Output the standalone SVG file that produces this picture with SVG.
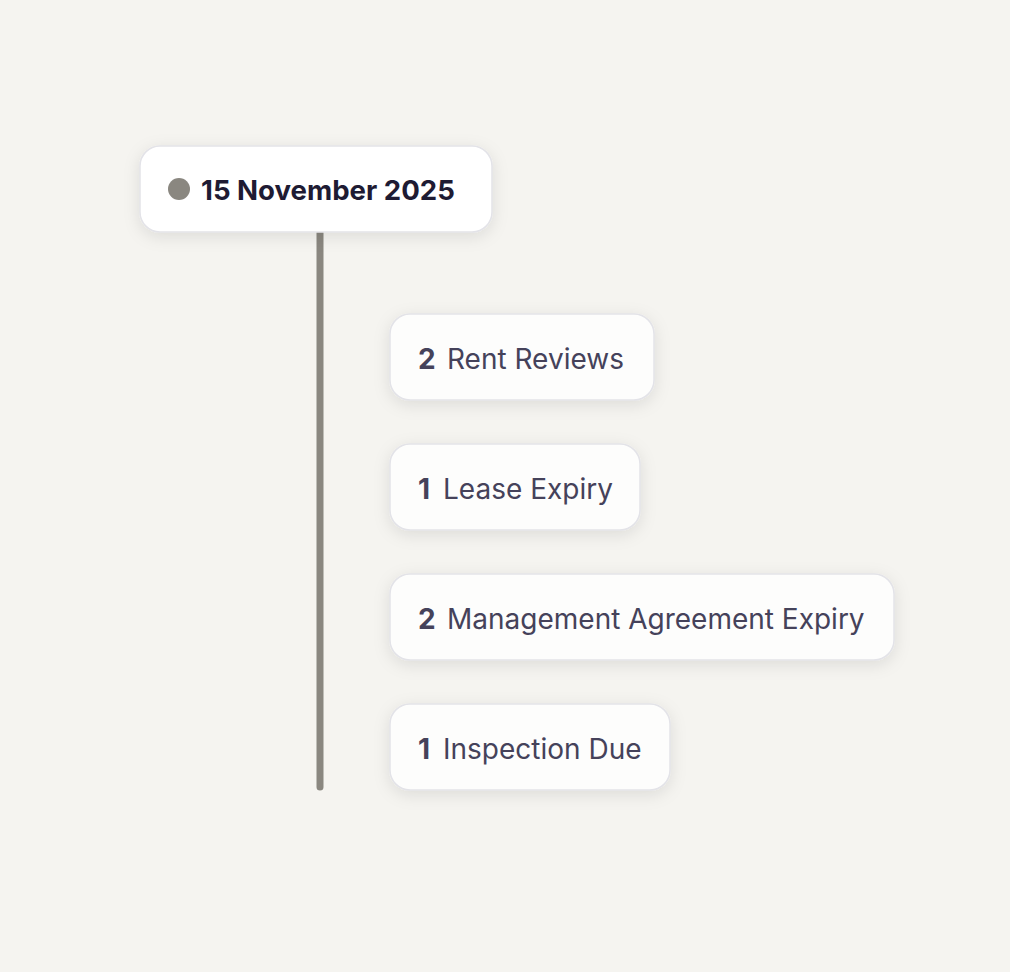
<svg xmlns="http://www.w3.org/2000/svg" width="1010" height="972" viewBox="0 0 1010 972">
<defs>
<filter id="sh" x="-20%" y="-40%" width="140%" height="180%">
<feDropShadow dx="0" dy="4" stdDeviation="8" flood-color="#000" flood-opacity="0.10"/>
</filter>
<style>
.card{fill:#fdfdfc;stroke:#e3e3e8;stroke-width:1.5;filter:url(#sh)}
.head{fill:#ffffff}
.ht{font-family:Inter,"Noto Sans",sans-serif;font-weight:700;font-size:27.6px;fill:#1e1b33}
.n{font-family:Inter,"Noto Sans",sans-serif;font-weight:700;font-size:28px;fill:#45425a}
.t{font-family:Inter,"Noto Sans",sans-serif;font-weight:400;font-size:28px;fill:#45425a}
</style>
</defs>
<rect width="1010" height="972" fill="#f5f4f0"/>
<g id="connectors">
<line x1="320" y1="232" x2="320" y2="787" stroke="#8a8780" stroke-width="7" stroke-linecap="round"/>
</g>
<g id="date">
<rect class="card head" x="140" y="146" width="352" height="86" rx="20"/>
<circle cx="179" cy="189" r="11" fill="#8a8780"/>
<text class="ht" x="201" y="200">15 November 2025</text>
</g>
<g id="rent-reviews">
<rect class="card" x="390" y="314" width="264" height="86" rx="20"/>
<text x="418" y="369"><tspan class="n">2</tspan><tspan class="t" x="447">Rent Reviews</tspan></text>
</g>
<g id="lease-expiry">
<rect class="card" x="390" y="444" width="250" height="86" rx="20"/>
<text x="418" y="499"><tspan class="n">1</tspan><tspan class="t" x="443">Lease Expiry</tspan></text>
</g>
<g id="management-agreement-expiry">
<rect class="card" x="390" y="574" width="504" height="86" rx="20"/>
<text x="418" y="629"><tspan class="n">2</tspan><tspan class="t" x="447">Management Agreement Expiry</tspan></text>
</g>
<g id="inspection-due">
<rect class="card" x="390" y="704" width="280" height="86" rx="20"/>
<text x="418" y="759"><tspan class="n">1</tspan><tspan class="t" x="443">Inspection Due</tspan></text>
</g>
</svg>
